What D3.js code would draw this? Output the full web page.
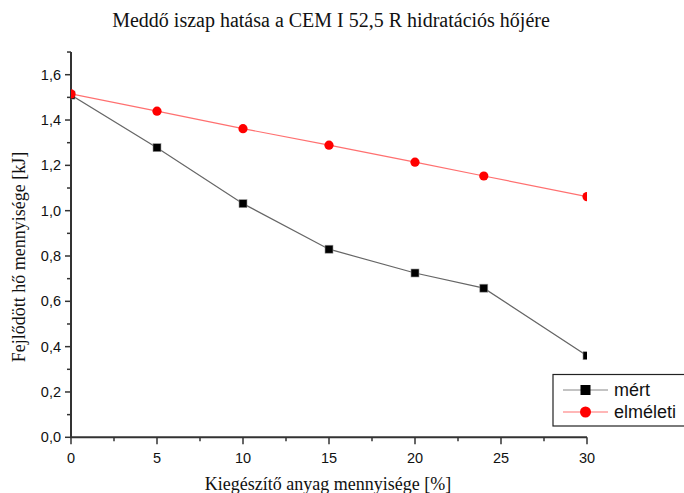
<!DOCTYPE html>
<html><head><meta charset="utf-8">
<script src="https://cdn.jsdelivr.net/npm/d3@7"></script>
<style>body{margin:0;background:#fff}svg{display:block}</style>
</head><body>
<script>
const xValues = [0, 5, 10, 15, 20, 24, 30];
const mertValues = [1.51, 1.278, 1.031, 0.83, 0.725, 0.658, 0.36];
const elmeletiValues = [1.515, 1.439, 1.362, 1.289, 1.214, 1.153, 1.062];
const xTicks = [0, 5, 10, 15, 20, 25, 30];
const yTicks = [0, 0.2, 0.4, 0.6, 0.8, 1.0, 1.2, 1.4, 1.6];
const seriesNames = ["mért", "elméleti"];
const title = "Meddő iszap hatása a CEM I 52,5 R hidratációs hőjére";
const xTitle = "Kiegészítő anyag mennyisége [%]";
const yTitle = "Fejlődött hő mennyisége [kJ]";

const W = 684, H = 493;
const svg = d3.select("body").append("svg").attr("width", W).attr("height", H);
const x = d3.scaleLinear().domain([0, 30]).range([71, 587]);
const y = d3.scaleLinear().domain([0, 1.6]).range([437.3, 74.7]);
const fmt = d => d3.format(".1f")(d).replace(".", ",");
const axisColor = "#333";

svg.append("defs").append("clipPath").attr("id", "clip")
  .append("rect").attr("x", x(0)).attr("y", 0).attr("width", x(30) - x(0)).attr("height", y(0));

// Y axis
const gy = svg.append("g").attr("transform", `translate(${x(0)},0)`);
gy.append("line").attr("x1", 0).attr("x2", 0).attr("y1", y(1.7)).attr("y2", y(0))
  .attr("stroke", axisColor).attr("stroke-width", 2);
d3.range(0, 18).forEach(i => {
  const v = i / 10;
  const major = i % 2 === 0;
  gy.append("line").attr("x1", 0).attr("x2", major ? -6 : -4)
    .attr("y1", y(v)).attr("y2", y(v)).attr("stroke", axisColor).attr("stroke-width", 1.5);
});
gy.selectAll("text.yt").data(yTicks).enter().append("text")
  .attr("x", -10).attr("y", d => y(d)).attr("dy", "0.35em")
  .attr("text-anchor", "end").attr("font-family", "Liberation Sans, Arial, sans-serif")
  .attr("font-size", 14.5).attr("fill", "#111").text(fmt);

// X axis
const gx = svg.append("g").attr("transform", `translate(0,${y(0)})`);
gx.append("line").attr("x1", x(0) - 1).attr("x2", x(30)).attr("y1", 0).attr("y2", 0)
  .attr("stroke", axisColor).attr("stroke-width", 2);
d3.range(0, 13).forEach(i => {
  const v = i * 2.5;
  const major = i % 2 === 0;
  gx.append("line").attr("x1", x(v)).attr("x2", x(v)).attr("y1", 0).attr("y2", major ? 7 : 4)
    .attr("stroke", axisColor).attr("stroke-width", 1.5);
});
gx.selectAll("text.xt").data(xTicks).enter().append("text")
  .attr("x", d => x(d)).attr("y", 26).attr("text-anchor", "middle")
  .attr("font-family", "Liberation Sans, Arial, sans-serif")
  .attr("font-size", 14.5).attr("fill", "#111").text(d => d);

// Lines and markers
const plot = svg.append("g").attr("clip-path", "url(#clip)");
const line = vals => d3.line().x((d, i) => x(xValues[i])).y(d => y(d))(vals);
plot.append("path").attr("d", line(mertValues)).attr("fill", "none")
  .attr("stroke", "#666").attr("stroke-width", 1.2);
plot.append("path").attr("d", line(elmeletiValues)).attr("fill", "none")
  .attr("stroke", "#ff7070").attr("stroke-width", 1.2);
plot.selectAll("rect.m").data(mertValues).enter().append("rect")
  .attr("x", (d, i) => x(xValues[i]) - 4).attr("y", d => y(d) - 4)
  .attr("width", 8).attr("height", 8).attr("fill", "#000").attr("stroke", "#999").attr("stroke-width", 0.6);
plot.selectAll("circle.e").data(elmeletiValues).enter().append("circle")
  .attr("cx", (d, i) => x(xValues[i])).attr("cy", d => y(d)).attr("r", 4.6).attr("fill", "#ff0000");

// Legend
const lg = svg.append("g");
lg.append("rect").attr("x", 553).attr("y", 374.5).attr("width", 140).attr("height", 51.5)
  .attr("fill", "#fff").attr("stroke", "#222").attr("stroke-width", 1.2);
const legY = [390, 412];
lg.append("line").attr("x1", 563).attr("x2", 608).attr("y1", legY[0]).attr("y2", legY[0]).attr("stroke", "#888").attr("stroke-width", 1.2);
lg.append("rect").attr("x", 580.5).attr("y", legY[0] - 5).attr("width", 10).attr("height", 10).attr("fill", "#000");
lg.append("line").attr("x1", 563).attr("x2", 608).attr("y1", legY[1]).attr("y2", legY[1]).attr("stroke", "#ff7070").attr("stroke-width", 1.2);
lg.append("circle").attr("cx", 585.5).attr("cy", legY[1]).attr("r", 5.5).attr("fill", "#ff0000");
lg.selectAll("text").data(seriesNames).enter().append("text")
  .attr("x", 614).attr("y", (d, i) => legY[i]).attr("dy", "0.35em")
  .attr("font-family", "Liberation Sans, Arial, sans-serif").attr("font-size", 18).attr("fill", "#111").text(d => d);

// Titles
svg.append("text").attr("x", 331).attr("y", 27).attr("text-anchor", "middle")
  .attr("font-family", "Liberation Serif, Times New Roman, serif").attr("font-size", 20).attr("fill", "#111").text(title);
svg.append("text").attr("x", 328).attr("y", 490).attr("text-anchor", "middle")
  .attr("font-family", "Liberation Serif, Times New Roman, serif").attr("font-size", 18).attr("fill", "#111").text(xTitle);
svg.append("text").attr("transform", "translate(25,257) rotate(-90)").attr("text-anchor", "middle")
  .attr("font-family", "Liberation Serif, Times New Roman, serif").attr("font-size", 18).attr("fill", "#111").text(yTitle);
</script>
</body></html>
